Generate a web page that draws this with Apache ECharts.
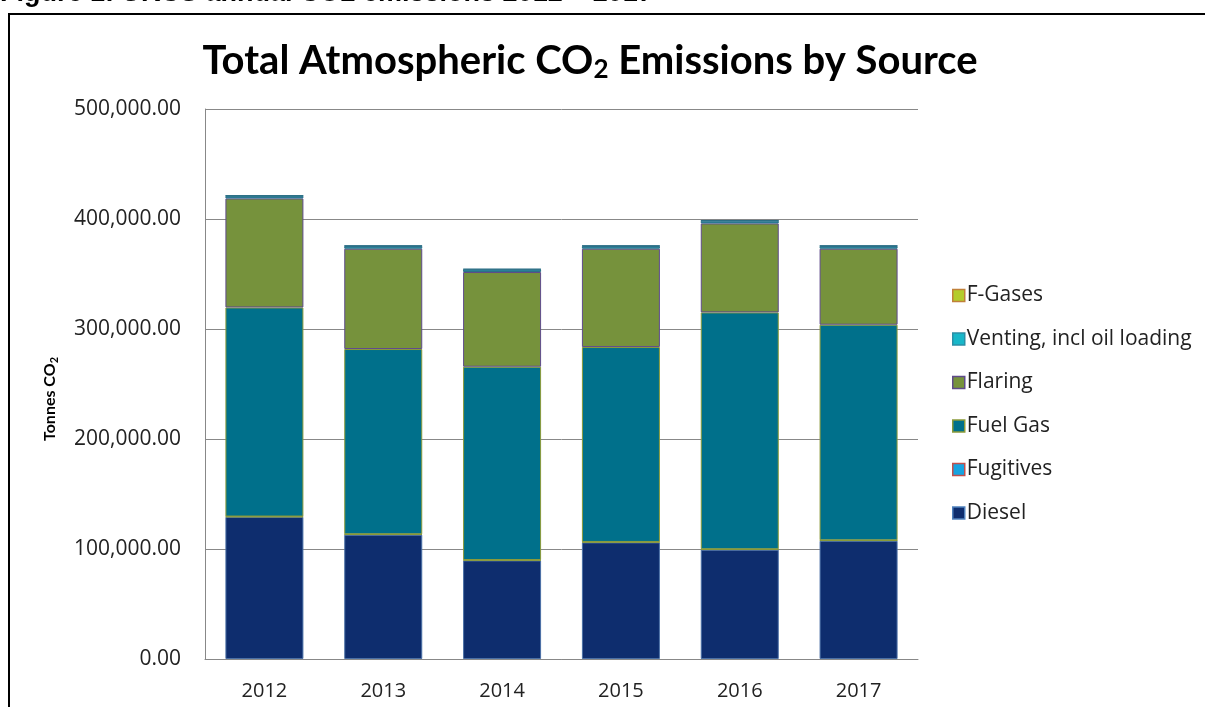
<!DOCTYPE html>
<html>
<head>
<meta charset="utf-8">
<script src="https://cdn.jsdelivr.net/npm/echarts@6/dist/echarts.min.js"></script>
<style>
html,body{margin:0;padding:0;background:#fff;}
#chart{width:1205px;height:707px;}
</style>
</head>
<body>
<div id="chart"></div>
<script>
const categories = ['2012','2013','2014','2015','2016','2017'];
const diesel    = [129100, 113000, 89600, 106000, 99400, 107500];
const fugitives = [400, 400, 400, 400, 400, 400];
const fuelGas   = [190100, 168400, 175700, 177200, 215300, 196000];
const flaring   = [99100, 91200, 86100, 89400, 80900, 69100];
const venting   = [2400, 2500, 2400, 2500, 2500, 2500];
const fGases    = [300, 300, 300, 300, 300, 300];
const yTicks = [0, 100000, 200000, 300000, 400000, 500000];

const seriesDefs = [
  {name:'Diesel', data:diesel, color:'#0e2d6e', border:'#4a6fa5', legendBorder:'#4f81bd'},
  {name:'Fugitives', data:fugitives, color:'#16a3e0', border:'#8a9a3a', legendBorder:'#c0504d'},
  {name:'Fuel Gas', data:fuelGas, color:'#00708b', border:'#8a9a3a', legendBorder:'#8a9a3a'},
  {name:'Flaring', data:flaring, color:'#76923c', border:'#5f4b8b', legendBorder:'#5f4b8b'},
  {name:'Venting, incl oil loading', data:venting, color:'#2a8aa3', border:'#2b6f86', legendBorder:'#2b8fa6'},
  {name:'F-Gases', data:fGases, color:'#2a8aa3', border:'#2b6f86', legendBorder:'#c0803a'}
];
const legendFill = {'Venting, incl oil loading':'#18b7c9', 'F-Gases':'#b4cc2c'};

const font = 'Lato, "Open Sans", sans-serif';
const labelFont = '"Open Sans", Lato, sans-serif';
const chart = echarts.init(document.getElementById('chart'));
const legendOrder = ['F-Gases','Venting, incl oil loading','Flaring','Fuel Gas','Fugitives','Diesel'];
chart.setOption({
  animation:false,
  backgroundColor:'#fff',
  title:{
    text:'{a|Total Atmospheric CO}{s|2}{a| Emissions by Source}',
    left:585, top:35, textAlign:'center',
    textStyle:{
      rich:{
        a:{fontFamily:font, fontWeight:'bold', fontSize:40, color:'#000'},
        s:{fontFamily:font, fontWeight:'bold', fontSize:26, color:'#000', padding:[17,0,0,0]}
      }
    }
  },
  graphic:[
    {type:'rect', shape:{x:9, y:14, width:1300, height:800}, style:{fill:'none', stroke:'#000', lineWidth:2}},
    {type:'text', left:0, top:-20, style:{text:'Figure 1: UKCS annual CO2 emissions 2012 \u2013 2017', font:'bold 27px "Liberation Sans", Arial, sans-serif', fill:'#000'}},
    {type:'text', x:50, y:399, rotation:Math.PI/2, style:{
      text:'{a|Tonnes CO}{s|2}', align:'center', verticalAlign:'middle',
      rich:{
        a:{fontFamily:font, fontWeight:'bold', fontSize:16, fill:'#000'},
        s:{fontFamily:font, fontWeight:'bold', fontSize:11, fill:'#000', padding:[8,0,0,0]}
      }}}
  ],
  legend:{
    orient:'vertical', left:952, top:285, padding:0,
    data: legendOrder.map(n=>{
      const d = seriesDefs.find(s=>s.name===n);
      return {name:n, itemStyle:{color:legendFill[n]||d.color, borderColor:d.legendBorder, borderWidth:1.5}};
    }),
    icon:'rect', itemWidth:12, itemHeight:12, itemGap:22.5,
    textStyle:{fontFamily:labelFont, fontSize:21, color:'#222', padding:[0,0,0,-3], lineHeight:18}
  },
  grid:{left:205, right:287, top:109, bottom:48},
  xAxis:{
    type:'category', data:categories,
    axisLine:{lineStyle:{color:'#888', width:1}},
    axisTick:{show:false},
    axisLabel:{fontFamily:labelFont, fontSize:20, color:'#222', margin:22}
  },
  yAxis:{
    type:'value', min:0, max:500000, interval:100000,
    axisLine:{show:true, lineStyle:{color:'#888', width:1}},
    axisTick:{show:false},
    splitLine:{lineStyle:{color:'#888', width:1}},
    axisLabel:{fontFamily:labelFont, fontSize:21, color:'#222', margin:24,
      formatter:v=>v.toLocaleString('en-US',{minimumFractionDigits:2, maximumFractionDigits:2})}
  },
  series: seriesDefs.map(s=>({
    name:s.name, type:'bar', stack:'total', data:s.data, barWidth:78,
    itemStyle:{color:s.color, borderColor:s.border, borderWidth:1}
  }))
});
</script>
</body>
</html>
